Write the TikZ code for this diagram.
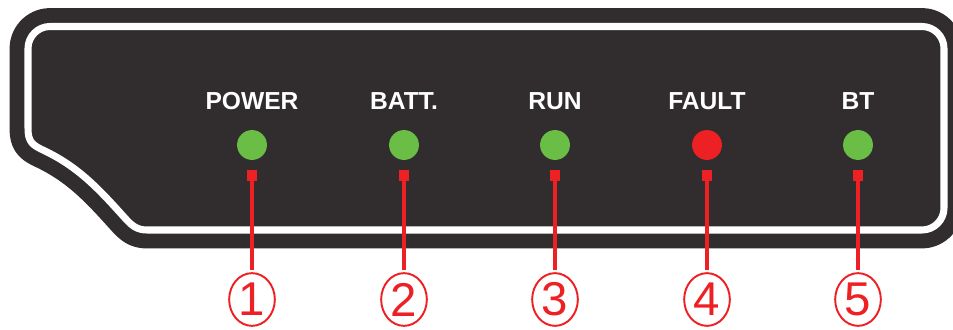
\documentclass[tikz,border=0pt]{standalone}
\usepackage{fontspec}
\setmainfont{Liberation Sans}
\usetikzlibrary{shapes.geometric}

\definecolor{panelgray}{HTML}{312C2D}
\definecolor{ledgreen}{HTML}{6ABD45}
\definecolor{ledred}{HTML}{ED2024}

\begin{document}
\begin{tikzpicture}[x=0.02cm, y=-0.02cm,
    panel/.style={fill=panelgray, draw=panelgray, line width=21pt, line join=round},
    rim/.style={draw=white, line width=4pt, line join=round},
    ledname/.style={text=white, inner sep=0pt, font=\fontsize{14}{16}\selectfont\bfseries},
    led/.style={circle, fill=ledgreen, minimum size=17pt, inner sep=0pt},
    pinbox/.style={rectangle, fill=ledred, minimum size=6.2pt, inner sep=0pt},
    lead/.style={ledred, line width=2.6pt, shorten >=1.5pt},
    badge/.style={ellipse, draw=ledred, line width=1.1pt, minimum width=26pt,
      minimum height=30pt, inner sep=0pt, text=ledred,
      font=\fontsize{27}{30}\selectfont}]

  % coordinates are pixels of the 953 x 330 frame, y pointing down
  \useasboundingbox (0,0) rectangle (953,330);

  % === Panel outline (centre line of the white rim) ===
  \def\rimpath{(147,230) .. controls (137,230) and (132,226) .. (124,217)
    .. controls (98,188) and (78,167) .. (45,151)
    .. controls (32,145) and (28,142) .. (28,128)
    -- (28,48.5) .. controls (28,36.4) and (37.9,26.5) .. (50,26.5)     % top left
    -- (922,26.5) .. controls (934.1,26.5) and (944,36.4) .. (944,48.5) % top right
    -- (944,208) .. controls (944,220.1) and (934.1,230) .. (922,230)   % bottom right
    -- cycle}

  % dark body, grown outward by the thick stroke
  \path[panel] \rimpath;
  % white rim
  \path[rim] \rimpath;

  % === LEDs ===
  % POWER
  \node[ledname] (name1) at (252,101) {POWER};
  \node[led] (led1) at (252,145) {};
  \node[pinbox] (pin1) at (252,175.5) {};
  \node[badge] (num1) at (252,299.5) {1};
  \draw[lead] (pin1) -- (num1);

  % BATT.
  \node[ledname] (name2) at (404,101) {BATT.};
  \node[led] (led2) at (404,145) {};
  \node[pinbox] (pin2) at (404,175.5) {};
  \node[badge] (num2) at (404,299.5) {2};
  \draw[lead] (pin2) -- (num2);

  % RUN
  \node[ledname] (name3) at (555,101) {RUN};
  \node[led] (led3) at (555,145) {};
  \node[pinbox] (pin3) at (555,175.5) {};
  \node[badge] (num3) at (555,299.5) {3};
  \draw[lead] (pin3) -- (num3);

  % FAULT (red LED)
  \node[ledname] (name4) at (707,101) {FAULT};
  \node[led, fill=ledred] (led4) at (707,145) {};
  \node[pinbox] (pin4) at (707,175.5) {};
  \node[badge] (num4) at (707,299.5) {4};
  \draw[lead] (pin4) -- (num4);

  % BT
  \node[ledname] (name5) at (858,101) {BT};
  \node[led] (led5) at (858,145) {};
  \node[pinbox] (pin5) at (858,175.5) {};
  \node[badge] (num5) at (858,299.5) {5};
  \draw[lead] (pin5) -- (num5);

\end{tikzpicture}
\end{document}
